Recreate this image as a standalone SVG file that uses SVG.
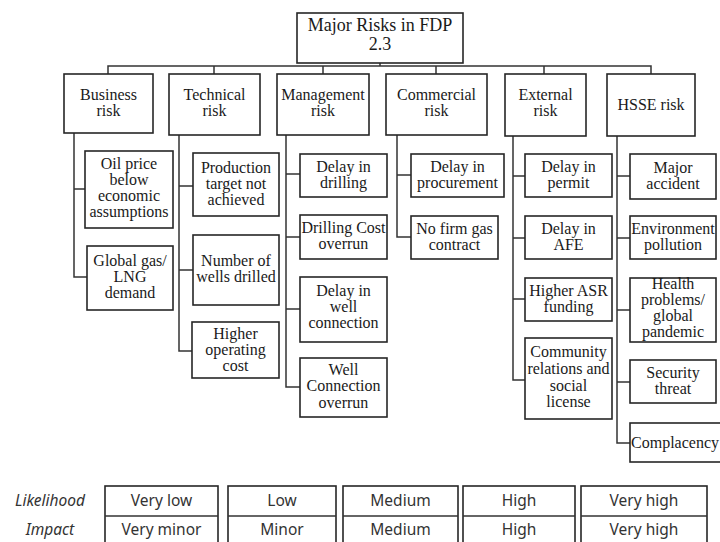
<svg xmlns="http://www.w3.org/2000/svg" width="720" height="542" viewBox="0 0 720 542">
<style>
.b{fill:#fff;stroke:#262626;stroke-width:1.6}
.t{font-family:"Liberation Serif","Times New Roman",serif;font-size:16px;fill:#1a1a1a;text-anchor:middle}
.h{font-size:18px}
.c{fill:none;stroke:#333;stroke-width:1.5}
.s{font-family:"Noto Sans","Open Sans",sans-serif;font-size:15.5px;fill:#333;text-anchor:middle}
.i{font-style:italic}
</style>
<rect width="720" height="542" fill="#fff"/>
<g id="connectors">
<path class="c" d="M380 63V66M108 74V66H651V74M214 66V74M323 66V74M436 66V74M544 66V74"/>
<path class="c" d="M74 133V277H87M74 189H85"/>
<path class="c" d="M179 135V351H192M179 186H193M179 270H193"/>
<path class="c" d="M286 135V387H300M286 174H300M286 237H300M286 309H300"/>
<path class="c" d="M397 135V237H411M397 175H411"/>
<path class="c" d="M513 136V380H525M513 176H525M513 238H525M513 299H525"/>
<path class="c" d="M617 136V443H630M617 176H630M617 238H630M617 310H630M617 382H630"/>
</g>
<g id="root"><rect class="b" x="297" y="13" width="166" height="50"/><text class="t h" x="380" y="31">Major Risks in FDP</text><text class="t h" x="380" y="50">2.3</text></g>
<g id="business"><rect class="b" x="64" y="74" width="89" height="59"/><text class="t" x="108.5" y="100">Business</text><text class="t" x="108.5" y="116">risk</text></g>
<g id="technical"><rect class="b" x="169" y="74" width="91" height="61"/><text class="t" x="214.5" y="100">Technical</text><text class="t" x="214.5" y="116">risk</text></g>
<g id="management"><rect class="b" x="277" y="74" width="92" height="61"/><text class="t" x="323" y="100">Management</text><text class="t" x="323" y="116">risk</text></g>
<g id="commercial"><rect class="b" x="386" y="74" width="101" height="61"/><text class="t" x="436.5" y="100">Commercial</text><text class="t" x="436.5" y="116">risk</text></g>
<g id="external"><rect class="b" x="505" y="74" width="81" height="62"/><text class="t" x="545.5" y="100">External</text><text class="t" x="545.5" y="116">risk</text></g>
<g id="hsse"><rect class="b" x="607" y="74" width="88" height="62"/><text class="t" x="651" y="110">HSSE risk</text></g>

<g id="oil-price"><rect class="b" x="85" y="151" width="88" height="77"/><text class="t" x="129" y="169">Oil price</text><text class="t" x="129" y="185">below</text><text class="t" x="129" y="201">economic</text><text class="t" x="129" y="217">assumptions</text></g>
<g id="global-gas"><rect class="b" x="87" y="246" width="86" height="64"/><text class="t" x="130" y="266">Global gas/</text><text class="t" x="130" y="282">LNG</text><text class="t" x="130" y="298">demand</text></g>

<g id="production"><rect class="b" x="193" y="153" width="86" height="63"/><text class="t" x="236" y="173">Production</text><text class="t" x="236" y="189">target not</text><text class="t" x="236" y="205">achieved</text></g>
<g id="wells"><rect class="b" x="193" y="235" width="86" height="70"/><text class="t" x="236" y="266">Number of</text><text class="t" x="236" y="282">wells drilled</text></g>
<g id="opcost"><rect class="b" x="192" y="322" width="87" height="56"/><text class="t" x="235.5" y="339">Higher</text><text class="t" x="235.5" y="355">operating</text><text class="t" x="235.5" y="371">cost</text></g>

<g id="delay-drilling"><rect class="b" x="300" y="154" width="87" height="43"/><text class="t" x="343.5" y="172">Delay in</text><text class="t" x="343.5" y="188">drilling</text></g>
<g id="drilling-cost"><rect class="b" x="300" y="215" width="87" height="44"/><text class="t" x="343.5" y="233">Drilling  Cost</text><text class="t" x="343.5" y="249">overrun</text></g>
<g id="delay-well"><rect class="b" x="300" y="277" width="87" height="65"/><text class="t" x="343.5" y="296">Delay in</text><text class="t" x="343.5" y="312">well</text><text class="t" x="343.5" y="328">connection</text></g>
<g id="well-overrun"><rect class="b" x="300" y="358" width="87" height="59"/><text class="t" x="343.5" y="375">Well</text><text class="t" x="343.5" y="391">Connection</text><text class="t" x="343.5" y="408">overrun</text></g>

<g id="delay-procurement"><rect class="b" x="411" y="154" width="93" height="43"/><text class="t" x="457.5" y="172">Delay in</text><text class="t" x="457.5" y="188">procurement</text></g>
<g id="no-gas"><rect class="b" x="411" y="216" width="87" height="43"/><text class="t" x="454.5" y="234">No firm gas</text><text class="t" x="454.5" y="250">contract</text></g>

<g id="delay-permit"><rect class="b" x="525" y="154" width="87" height="43"/><text class="t" x="568.5" y="172">Delay in</text><text class="t" x="568.5" y="188">permit</text></g>
<g id="delay-afe"><rect class="b" x="525" y="216" width="87" height="43"/><text class="t" x="568.5" y="234">Delay in</text><text class="t" x="568.5" y="250">AFE</text></g>
<g id="asr"><rect class="b" x="525" y="278" width="87" height="43"/><text class="t" x="568.5" y="296">Higher ASR</text><text class="t" x="568.5" y="312">funding</text></g>
<g id="community"><rect class="b" x="525" y="338" width="87" height="81"/><text class="t" x="568.5" y="357">Community</text><text class="t" x="568.5" y="374">relations and</text><text class="t" x="568.5" y="391">social</text><text class="t" x="568.5" y="407">license</text></g>

<g id="major-accident"><rect class="b" x="630" y="154" width="86" height="45"/><text class="t" x="673" y="173">Major</text><text class="t" x="673" y="189">accident</text></g>
<g id="environment"><rect class="b" x="630" y="216" width="86" height="43"/><text class="t" x="673" y="234">Environment</text><text class="t" x="673" y="250">pollution</text></g>
<g id="health"><rect class="b" x="630" y="278" width="86" height="64"/><text class="t" x="673" y="289">Health</text><text class="t" x="673" y="305">problems/</text><text class="t" x="673" y="321">global</text><text class="t" x="673" y="337">pandemic</text></g>
<g id="security"><rect class="b" x="630" y="360" width="86" height="43"/><text class="t" x="673" y="378">Security</text><text class="t" x="673" y="394">threat</text></g>
<g id="complacency"><rect class="b" x="630" y="423" width="100" height="39"/><text class="t" x="675" y="448">Complacency</text></g>

<g id="scale-table">
<text class="s i" x="50" y="506">Likelihood</text>
<text class="s i" x="50" y="535">Impact</text>
<rect class="b" x="105" y="486" width="113" height="70"/><line class="c" x1="105" y1="516" x2="218" y2="516"/>
<rect class="b" x="228" y="486" width="108" height="70"/><line class="c" x1="228" y1="516" x2="336" y2="516"/>
<rect class="b" x="343" y="486" width="115" height="70"/><line class="c" x1="343" y1="516" x2="458" y2="516"/>
<rect class="b" x="463" y="486" width="112" height="70"/><line class="c" x1="463" y1="516" x2="575" y2="516"/>
<rect class="b" x="581" y="486" width="126" height="70"/><line class="c" x1="581" y1="516" x2="707" y2="516"/>
<text class="s" x="161.5" y="506">Very low</text><text class="s" x="161.5" y="535">Very minor</text>
<text class="s" x="282" y="506">Low</text><text class="s" x="282" y="535">Minor</text>
<text class="s" x="400.5" y="506">Medium</text><text class="s" x="400.5" y="535">Medium</text>
<text class="s" x="519" y="506">High</text><text class="s" x="519" y="535">High</text>
<text class="s" x="644" y="506">Very high</text><text class="s" x="644" y="535">Very high</text>
</g>
</svg>
